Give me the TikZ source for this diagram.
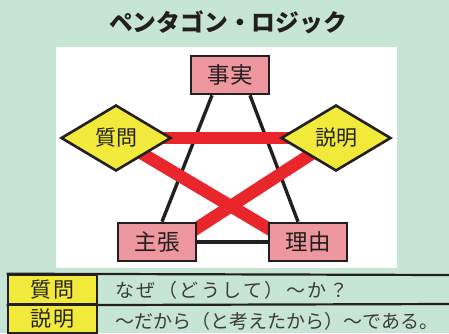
\documentclass[tikz,border=0pt]{standalone}
\usepackage{fontspec}
\newfontfamily\cjk{Noto Sans CJK JP}
\newfontfamily\cjkwide[LetterSpace=13]{Noto Sans CJK JP}
\newfontfamily\cjkhead[LetterSpace=14]{Noto Sans CJK JP}
\usetikzlibrary{shapes.geometric,backgrounds}
\definecolor{bggreen}{HTML}{C7E5D4}
\definecolor{boxpink}{HTML}{EE979E}
\definecolor{dyellow}{HTML}{F2EA3A}
\definecolor{redbar}{HTML}{E8262B}
\definecolor{ink}{HTML}{231F20}
\definecolor{graytext}{HTML}{3C3C3C}
\tikzset{
  pinkbox/.style={draw=ink, line width=2.6pt, fill=boxpink, minimum width=78pt, minimum height=38pt, inner sep=0pt, font=\cjk\fontsize{22.5}{22.5}\selectfont, text=ink},
  ydiamond/.style={diamond, draw=ink, line width=2.6pt, fill=dyellow, minimum width=110pt, minimum height=66pt, inner sep=0pt, font=\cjk\fontsize{21}{21}\selectfont, text=ink},
  blackline/.style={draw=ink, line width=3.4pt},
  redline/.style={draw=redbar, line width=12.5pt},
  tabline/.style={draw=ink, line width=2.2pt},
  cellhead/.style={fill=dyellow, draw=ink, line width=2.6pt, minimum width=89pt, minimum height=29pt, inner sep=0pt, font=\cjkhead\fontsize{21}{21}\selectfont, text=ink},
  celltext/.style={anchor=west, inner sep=0pt, text=graytext}
}
\begin{document}
\begin{tikzpicture}[x=1pt,y=-1pt]
\useasboundingbox (0,0) rectangle (449,333);
% nodes
\node[pinkbox] (fact) at (230,75) {事実};
\node[ydiamond] (q) at (116,138) {質問};
\node[ydiamond] (e) at (336,138) {説明};
\node[pinkbox] (claim) at (157,242) {主張};
\node[pinkbox] (reason) at (308,242) {理由};
\node[font=\cjk\bfseries\fontsize{23.8}{23.8}\selectfont, text=ink] (title) at (228,22) {ペンタゴン・ロジック};
% table
\node[cellhead] (h1) at (52.5,289.5) {質問};
\node[cellhead] (h2) at (52.5,319) {説明};
\coordinate (t1) at (449,275);
\coordinate (t2) at (449,304);
\node[celltext, font=\cjkwide\fontsize{19}{19}\selectfont] (r1) at (115,290) {なぜ（どうして）～か？};
\node[celltext, font=\cjk\fontsize{19}{19}\selectfont] (r2) at (115,321) {～だから（と考えたから）～である。};
\begin{scope}[on background layer]
  \fill[bggreen] (0,0) rectangle (449,333);
  \fill[white] (56,47) rectangle (397,268);
  \draw[blackline] ([xshift=-18pt]fact.south) -- ([xshift=5pt]claim.north);
  \draw[blackline] ([xshift=20pt]fact.south) -- ([xshift=-10pt]reason.north);
  \draw[blackline] (claim) -- (reason);
  \draw[redline] (q.center) -- (e.center);
  \draw[redline] (q.center) -- ([yshift=-10pt]reason.center);
  \draw[redline] (e.center) -- ([yshift=-12pt]claim.center);
  \draw[tabline] (h1.north west) -- (t1);
  \draw[tabline] (h1.south west) -- (t2);
\end{scope}
\end{tikzpicture}
\end{document}
